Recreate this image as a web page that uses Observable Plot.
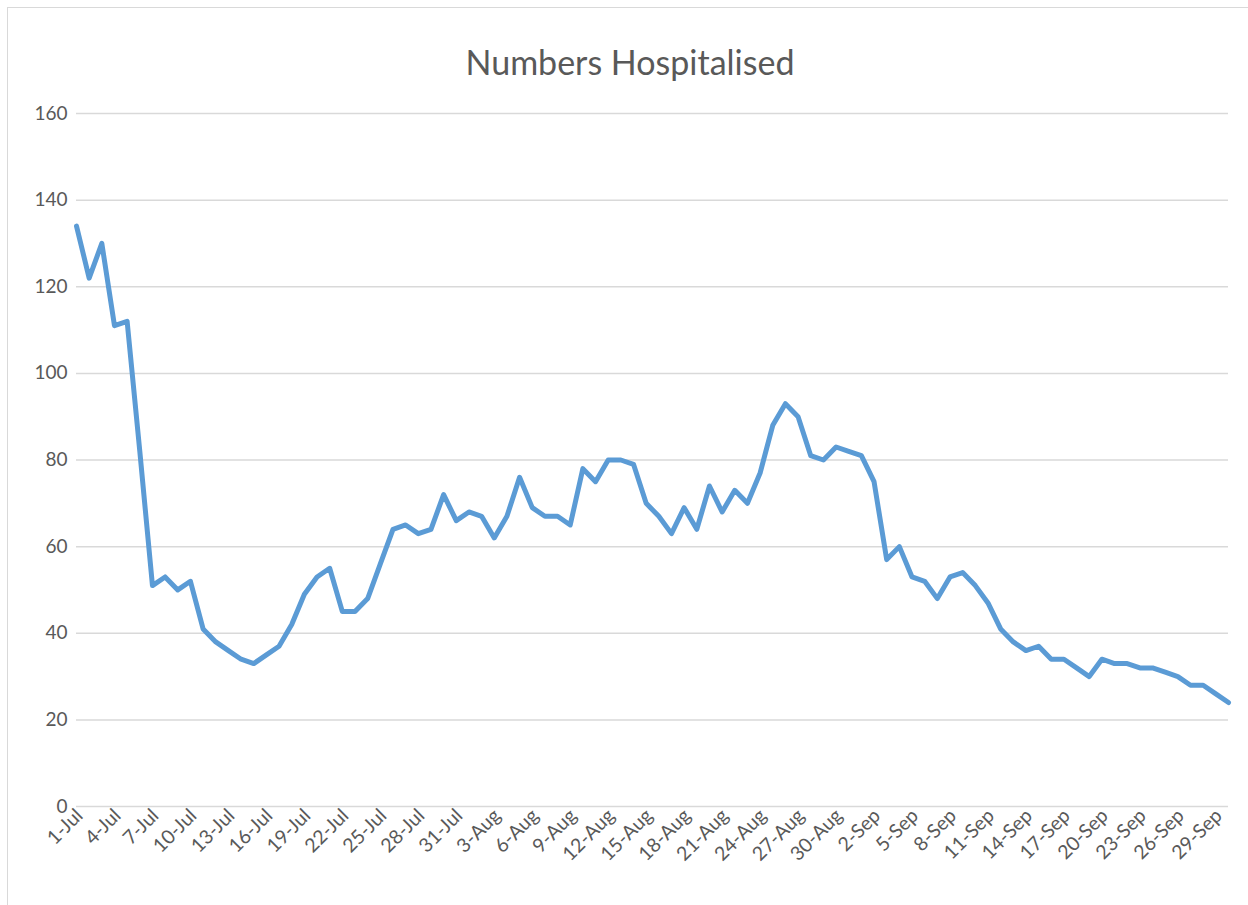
<!DOCTYPE html>
<html>
<head>
<meta charset="utf-8">
<script src="https://cdn.jsdelivr.net/npm/d3@7"></script>
<script src="https://cdn.jsdelivr.net/npm/@observablehq/plot@0.6"></script>
<style>
  html, body { margin: 0; padding: 0; background: #fff; overflow: hidden; }
  #wrap { position: relative; width: 1248px; height: 905px; font-family: Lato, "Open Sans", sans-serif; }
  #frame { position: absolute; left: 7px; top: 7px; width: 1270px; height: 930px; border: 1.5px solid #d9d9d9; box-sizing: border-box; }
  #title { position: absolute; left: 0; width: 1260px; top: 41px; text-align: center; font-size: 34px; color: #595959; line-height: 42px; }
  #chart { position: absolute; left: 0; top: 0; }
</style>
</head>
<body>
<div id="wrap">
  <div id="frame"></div>
  <div id="chart"></div>
  <div id="title">Numbers Hospitalised</div>
</div>
<script>
// Daily numbers hospitalised, 1-Jul to 30-Sep
const startDate = "2020-07-01";
const hospitalised = [
  134, 122, 130, 111, 112, 82, 51, 53, 50, 52,
  41, 38, 36, 34, 33, 35, 37, 42, 49, 53,
  55, 45, 45, 48, 56, 64, 65, 63, 64, 72,
  66, 68, 67, 62, 67, 76, 69, 67, 67, 65,
  78, 75, 80, 80, 79, 70, 67, 63, 69, 64,
  74, 68, 73, 70, 77, 88, 93, 90, 81, 80,
  83, 82, 81, 75, 57, 60, 53, 52, 48, 53,
  54, 51, 47, 41, 38, 36, 37, 34, 34, 32,
  30, 34, 33, 33, 32, 32, 31, 30, 28, 28,
  26, 24
];
const xTickLabels = [
  "1-Jul","4-Jul","7-Jul","10-Jul","13-Jul","16-Jul","19-Jul","22-Jul","25-Jul","28-Jul","31-Jul",
  "3-Aug","6-Aug","9-Aug","12-Aug","15-Aug","18-Aug","21-Aug","24-Aug","27-Aug","30-Aug",
  "2-Sep","5-Sep","8-Sep","11-Sep","14-Sep","17-Sep","20-Sep","23-Sep","26-Sep","29-Sep"
];
const yTicks = [0, 20, 40, 60, 80, 100, 120, 140, 160];

const parseLabel = d3.utcParse("%d-%b-%Y");
const tickDates = xTickLabels.map(s => parseLabel(s + "-2020"));
const start = d3.utcParse("%Y-%m-%d")(startDate);
const data = hospitalised.map((v, i) => ({date: d3.utcDay.offset(start, i), value: v}));

const textColor = "#595959";
const chart = Plot.plot({
  width: 1248,
  height: 905,
  marginLeft: 76,
  marginRight: 20,
  marginTop: 113,
  marginBottom: 99,
  style: {fontFamily: "Lato, 'Open Sans', sans-serif", background: "transparent", overflow: "visible"},
  x: {type: "utc", domain: [data[0].date, data[data.length - 1].date]},
  y: {domain: [0, 160]},
  marks: [
    Plot.ruleY(yTicks, {stroke: "#d9d9d9", strokeWidth: 1.5}),
    Plot.axisY({ticks: yTicks, tickSize: 0, tickPadding: 9, fontSize: 19, color: textColor, label: null, tickFormat: d => d}),
    Plot.axisX({ticks: tickDates, tickFormat: d3.utcFormat("%-d-%b"), tickRotate: -45, tickSize: 0, tickPadding: 6, fontSize: 19.5, color: textColor, label: null, dx: 3}),
    Plot.line(data, {x: "date", y: "value", stroke: "#5b9bd5", strokeWidth: 5, strokeLinejoin: "round", strokeLinecap: "round"})
  ]
});
document.getElementById("chart").appendChild(chart);
</script>
</body>
</html>
